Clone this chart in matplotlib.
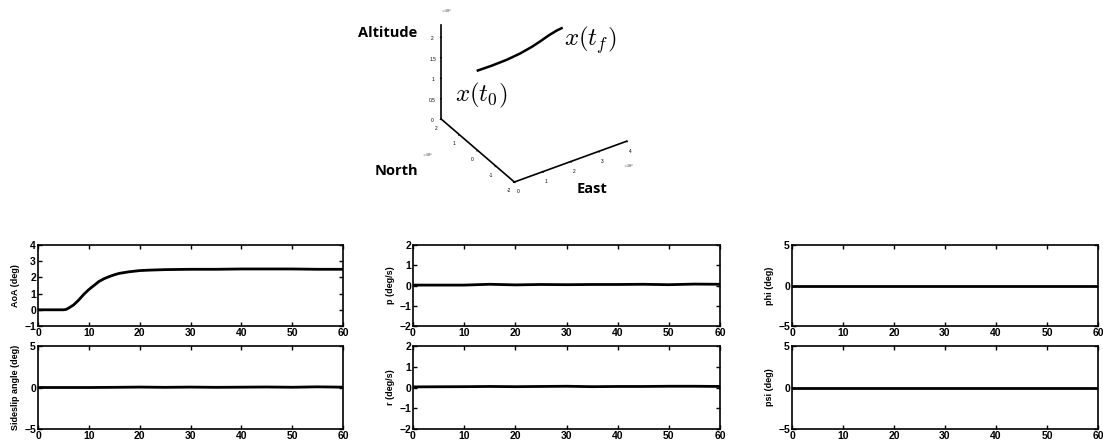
import matplotlib
matplotlib.use("Agg")
import matplotlib.pyplot as plt
import numpy as np
from matplotlib.ticker import FuncFormatter

OUTPUT_PATH = "out.png"
FIG_W, FIG_H = 1103, 444

# trajectory (metres)
traj_east = [0, 5000, 10200, 15000, 19300, 22500, 25300, 28000, 29800]
traj_north = [0, 0, 0, 0, 0, 0, 0, 0, 0]
traj_alt = [19500, 19450, 19550, 19900, 20500, 21150, 21800, 22250, 22400]

east_ticks = [0, 10000, 20000, 30000, 40000]
north_ticks = [-20000, -10000, 0, 10000, 20000]
alt_ticks = [0, 5000, 10000, 15000, 20000]

# time histories
time = [0, 2, 4, 5, 5.5, 6, 7, 8, 9, 10, 11, 12, 13, 14, 15, 16, 17, 18, 20,
        22, 25, 30, 35, 40, 45, 50, 55, 60]
aoa = [0, 0, 0, 0, 0.02, 0.1, 0.3, 0.6, 0.95, 1.25, 1.5, 1.75, 1.92, 2.05,
       2.16, 2.25, 2.3, 2.35, 2.42, 2.45, 2.48, 2.5, 2.5, 2.52, 2.52, 2.52,
       2.5, 2.5]

time_flat = [0, 10, 15, 20, 25, 30, 35, 40, 45, 50, 55, 60]
sideslip = [0, 0, 0.02, 0.05, 0.02, 0.05, 0.02, 0.04, 0.06, 0.03, 0.08, 0.04]
p_rate = [0.02, 0.02, 0.06, 0.03, 0.05, 0.04, 0.05, 0.05, 0.06, 0.04, 0.07, 0.06]
r_rate = [0.03, 0.04, 0.05, 0.04, 0.05, 0.06, 0.04, 0.05, 0.05, 0.06, 0.06, 0.05]
phi = [0, 0, 0, 0, 0, 0, 0, 0, 0, 0, 0, 0]
psi = [0, 0, 0, 0, 0, 0, 0, 0, 0, 0, 0, 0]

x_ticks = [0, 10, 20, 30, 40, 50, 60]

panels = [
    # (series x, series y, ylabel, ylim, yticks, column, row)
    (time, aoa, "AoA (deg)", (-1, 4), [-1, 0, 1, 2, 3, 4], 0, 0),
    (time_flat, sideslip, "Sideslip angle (deg)", (-5, 5), [-5, 0, 5], 0, 1),
    (time_flat, p_rate, "p (deg/s)", (-2, 2), [-2, -1, 0, 1, 2], 1, 0),
    (time_flat, r_rate, "r (deg/s)", (-2, 2), [-2, -1, 0, 1, 2], 1, 1),
    (time_flat, phi, "phi (deg)", (-5, 5), [-5, 0, 5], 2, 0),
    (time_flat, psi, "psi (deg)", (-5, 5), [-5, 0, 5], 2, 1),
]

COL_X = [(38, 343), (413, 720), (792, 1098)]
ROW_Y = [(245, 326), (346, 429)]

LABEL_FONT = ["Open Sans", "DejaVu Sans"]


def px_rect(x0, x1, y0, y1):
    return [x0 / FIG_W, 1 - y1 / FIG_H, (x1 - x0) / FIG_W, (y1 - y0) / FIG_H]


def fig_text(fig, x, y, s, **kw):
    fig.text(x / FIG_W, 1 - y / FIG_H, s, **kw)


def draw_trajectory(fig):
    ax = fig.add_axes(px_rect(378, 684, -27, 199), projection="3d")
    ax.set_proj_type("ortho")
    ax.view_init(elev=34, azim=-123)
    ax.set_box_aspect((4, 4, 3.4), zoom=0.95)
    ax.patch.set_alpha(0)

    ax.plot(traj_east, traj_north, traj_alt, color="black", lw=1.8)

    ax.set_xlim(0, 40000)
    ax.set_ylim(-20000, 20000)
    ax.set_zlim(0, 23000)
    ax.set_xticks(east_ticks)
    ax.set_yticks(north_ticks)
    ax.set_zticks(alt_ticks)
    fmt = FuncFormatter(lambda v, pos: f"{v / 1e4:g}")
    for axis in (ax.xaxis, ax.yaxis, ax.zaxis):
        axis.set_major_formatter(fmt)
        axis.set_pane_color((1, 1, 1, 0))
        axis.pane.set_edgecolor((1, 1, 1, 0))
        axis.line.set_linewidth(1.2)
        axis.line.set_color("black")
        axis._axinfo["grid"]["linewidth"] = 0
        axis._axinfo["tick"]["inward_factor"] = 0.1
        axis._axinfo["tick"]["outward_factor"] = 0.0
    ax.grid(False)
    ax.tick_params(labelsize=3.5, pad=-4, width=0.5)

    for x, y in [(446, 11), (427, 155), (628, 166)]:
        fig_text(fig, x, y, r"$\times10^4$", fontsize=3, ha="center",
                 va="center")

    fig_text(fig, 358, 33, "Altitude", fontsize=10.5, fontweight="bold",
             family=LABEL_FONT, va="center")
    fig_text(fig, 375, 171, "North", fontsize=10.5, fontweight="bold",
             family=LABEL_FONT, va="center")
    fig_text(fig, 577, 189, "East", fontsize=10.5, fontweight="bold",
             family=LABEL_FONT, va="center")
    fig_text(fig, 455, 95, r"$x(t_0)$", fontsize=18, va="center")
    fig_text(fig, 564, 40, r"$x(t_f)$", fontsize=18, va="center")


def draw_panel(fig, t, y, ylabel, ylim, yticks, col, row):
    x0, x1 = COL_X[col]
    y0, y1 = ROW_Y[row]
    ax = fig.add_axes(px_rect(x0, x1, y0, y1))
    ax.plot(t, y, color="black", lw=2)
    ax.set_xlim(0, 60)
    ax.set_ylim(*ylim)
    ax.set_xticks(x_ticks)
    ax.set_yticks(yticks)
    ax.tick_params(direction="in", top=True, right=True, length=3,
                   width=1.0, labelsize=7.5, pad=1.5)
    for lab in ax.get_xticklabels() + ax.get_yticklabels():
        lab.set_fontweight("bold")
    for spine in ax.spines.values():
        spine.set_linewidth(1.2)
    ax.set_ylabel(ylabel, fontsize=6.5, fontweight="bold", labelpad=3)


def main():
    plt.rcParams["mathtext.fontset"] = "cm"
    plt.rcParams["font.family"] = ["Liberation Sans", "DejaVu Sans"]
    fig = plt.figure(figsize=(FIG_W / 100, FIG_H / 100), dpi=100)

    draw_trajectory(fig)
    for t, y, ylabel, ylim, yticks, col, row in panels:
        draw_panel(fig, t, y, ylabel, ylim, yticks, col, row)

    fig.savefig(OUTPUT_PATH, dpi=100)
    plt.close(fig)


if __name__ == "__main__":
    main()
